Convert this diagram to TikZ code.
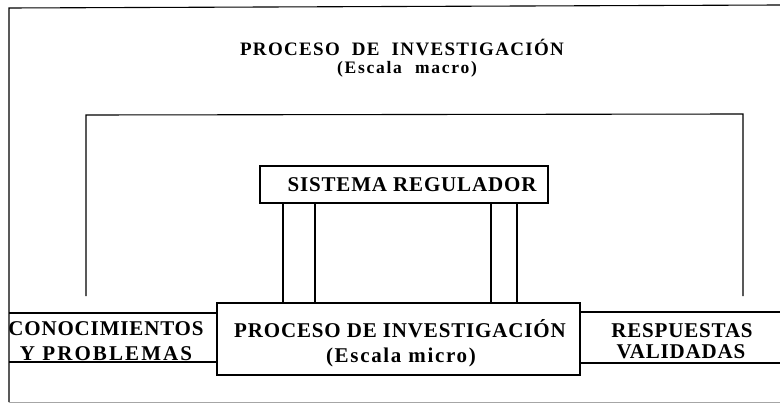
\documentclass[tikz,border=0pt]{standalone}
\usepackage{fontspec}
\setmainfont{Liberation Serif}
\newcommand\ft[2]{\fontsize{#1}{#1}\selectfont\bfseries\addfontfeatures{LetterSpace=#2}}
\begin{document}
\begin{tikzpicture}[x=1pt,y=-1pt,
  line/.style={line width=1.1pt,black},
  lbl/.style={inner sep=0pt,anchor=base},
  boxnode/.style={draw,line width=1.1pt,inner sep=0pt}]
\useasboundingbox (0,0) rectangle (780,404);
% outer frame
\coordinate (otl) at (9,8);
\coordinate (otr) at (780,5);
\coordinate (obl) at (9,402);
\draw[line] (otr) -- (otl) -- (obl);
\draw[gray!70,line width=0.6pt] (obl) -- (780,402);
% title
\node[lbl,font=\ft{19}{7}] (t1) at (402,56) {PROCESO\hspace{6pt} DE\hspace{6pt} INVESTIGACIÓN};
\node[lbl,font=\ft{17.5}{10}] (t2) at (407,73.5) {(Escala\hspace{7pt} macro)};
% process box
\node[boxnode,minimum width=363pt,minimum height=72pt] (micro) at (398.5,339) {};
\node[lbl,font=\ft{21}{4}] (m1) at (400,337) {PROCESO DE INVESTIGACIÓN};
\node[lbl,font=\ft{21}{8}] (m2) at (401,362) {(Escala micro)};
% regulador box
\node[boxnode,minimum width=288pt,minimum height=37pt] (reg) at (404,184.5) {};
\node[lbl,font=\ft{21}{4}] (r1) at (412,191) {SISTEMA REGULADOR};
% connectors regulador -> process
\foreach \xx in {283,315,491,517}
  \draw[line] (\xx,0 |- reg.south) -- (\xx,0 |- micro.north);
% left box
\coordinate (cl1) at (9,313);
\coordinate (cl2) at (9,362);
\draw[line] (cl1) -- (micro.west |- cl1);
\draw[line] (cl2) -- (micro.west |- cl2);
\node[lbl,font=\ft{21}{4}] (c1) at (106,335) {CONOCIMIENTOS};
\node[lbl,font=\ft{21}{10}] (c2) at (106,360) {Y PROBLEMAS};
% right box
\coordinate (rr1) at (780,312);
\coordinate (rr2) at (780,363);
\draw[line] (micro.east |- rr1) -- (rr1);
\draw[line] (micro.east |- rr2) -- (rr2);
\node[lbl,font=\ft{21}{4}] (v1) at (682,337) {RESPUESTAS};
\node[lbl,font=\ft{21}{4}] (v2) at (681,358) {VALIDADAS};
% bracket
\coordinate (bl) at (86,296);
\coordinate (blt) at (86,115);
\coordinate (brt) at (743,114);
\coordinate (br) at (743,296);
\draw[line] (bl) -- (blt) -- (brt) -- (br);
\end{tikzpicture}
\end{document}
